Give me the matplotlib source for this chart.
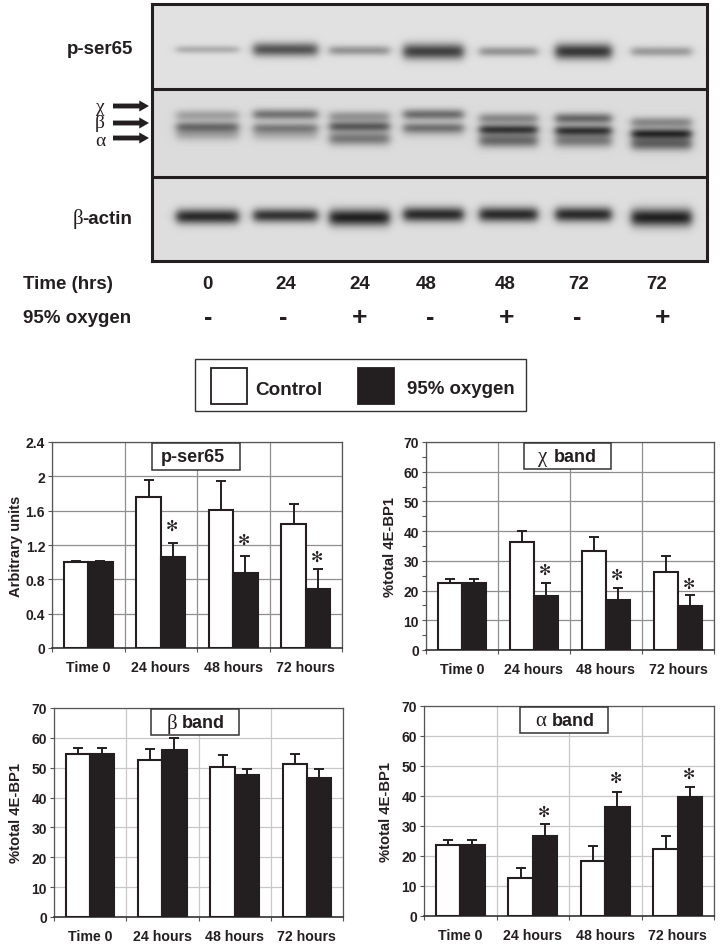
import numpy as np
import matplotlib
matplotlib.use('Agg')
import matplotlib.pyplot as plt
from matplotlib.patches import Rectangle
from matplotlib.ticker import MultipleLocator, FixedLocator, NullFormatter

W, H = 722, 953
plt.rcParams['font.family'] = ['Liberation Sans', 'DejaVu Sans']
plt.rcParams['font.weight'] = 'bold'
INK = '#231f20'

# bar charts
categories = ['Time 0', '24 hours', '48 hours', '72 hours']

pser_control = [1.0, 1.76, 1.61, 1.44]
pser_control_top = [1.01, 1.96, 1.94, 1.68]
pser_oxygen = [1.0, 1.06, 0.87, 0.69]
pser_oxygen_top = [1.01, 1.22, 1.07, 0.92]
pser_stars = [None, 1.43, 1.27, 1.07]

chi_control = [22.6, 36.5, 33.2, 26.4]
chi_control_top = [24.0, 40.2, 38.0, 31.5]
chi_oxygen = [22.6, 18.2, 16.8, 14.8]
chi_oxygen_top = [24.0, 22.5, 21.0, 18.5]
chi_stars = [None, 27.3, 25.5, 22.5]

beta_control = [54.6, 52.5, 50.4, 51.2]
beta_control_top = [56.6, 56.4, 54.4, 54.7]
beta_oxygen = [54.7, 55.8, 47.6, 46.7]
beta_oxygen_top = [56.6, 60.1, 49.7, 49.5]

alpha_control = [23.6, 12.8, 18.5, 22.4]
alpha_control_top = [25.4, 15.9, 23.5, 26.7]
alpha_oxygen = [23.7, 26.8, 36.4, 39.8]
alpha_oxygen_top = [25.4, 30.7, 41.4, 43.0]
alpha_stars = [None, 34.8, 46.1, 47.6]

# blot lanes
lane_x = [207, 285, 359, 433, 508, 583, 661]
lane_w = [62, 64, 60, 60, 58, 56, 60]
pser_y = [50, 50, 51, 52, 52, 52, 52]
pser_s = [0.25, 0.70, 0.38, 0.80, 0.38, 0.85, 0.35]
pser_h = [4.0, 7.0, 5.0, 8.0, 5.0, 8.0, 5.0]
chibit_y = [116, 115, 117, 115, 119, 119, 123]
chibit_s = [0.30, 0.52, 0.36, 0.55, 0.42, 0.58, 0.42]
betabit_y = [127, 128, 127, 128, 130, 131, 134]
betabit_s = [0.46, 0.36, 0.62, 0.36, 0.78, 0.78, 0.82]
alphabit_y = [134, 134, 139, 131, 141, 141, 144]
alphabit_s = [0.30, 0.25, 0.50, 0.20, 0.58, 0.50, 0.62]
actin_y = [217, 216, 218, 215, 215, 215, 218]
actin_s = [0.90, 0.85, 0.95, 0.90, 0.90, 0.90, 0.95]
actin_h = [7.5, 7.0, 8.5, 7.5, 7.5, 7.5, 9.0]

time_labels = ['0', '24', '24', '48', '48', '72', '72']
time_x = [207, 286, 360, 426, 505, 579, 657]
oxygen_signs = ['-', '-', '+', '-', '+', '-', '+']
sign_x = [208, 283, 360, 430, 507, 577, 663]


fig = plt.figure(figsize=(W / 100, H / 100), dpi=100, facecolor='white')


def px_axes(x0, y0, x1, y1, **kw):
    return fig.add_axes([x0 / W, 1 - y1 / H, (x1 - x0) / W, (y1 - y0) / H], **kw)


def blot_image():
    yy, xx = np.mgrid[5:262, 152:707].astype(float)
    dark = np.zeros_like(xx)

    def band(cx, w, cy, s, h):
        edge = 0.5 * (np.tanh((xx - cx + w / 2) / 5) - np.tanh((xx - cx - w / 2) / 5))
        return s * edge * np.exp(-((yy - cy) / h) ** 2)

    for i in range(7):
        dark += band(lane_x[i], lane_w[i], pser_y[i], pser_s[i], pser_h[i])
        dark += band(lane_x[i], lane_w[i], chibit_y[i], chibit_s[i], 5.5)
        dark += band(lane_x[i], lane_w[i], betabit_y[i], betabit_s[i], 5.0)
        dark += band(lane_x[i], lane_w[i], alphabit_y[i], alphabit_s[i], 7.0)
        dark += band(lane_x[i], lane_w[i], actin_y[i], actin_s[i], actin_h[i])
    bg = np.where(yy < 89, 0.88, np.where(yy < 178, 0.86, 0.87))
    return np.clip(bg - 0.78 * np.clip(dark, 0, 1), 0, 1)


blot = px_axes(152, 5, 707, 262)
blot.imshow(blot_image(), cmap='gray', vmin=0, vmax=1, aspect='auto',
            extent=(152, 707, 262, 5), interpolation='bilinear')
blot.set_xticks([])
blot.set_yticks([])
for s in blot.spines.values():
    s.set_linewidth(2.2)
    s.set_color(INK)
for y in [89.5, 178]:
    blot.axhline(y, color=INK, lw=2.2)


def panel(box, control, control_top, oxygen, oxygen_top, ymax, ystep, ylabel,
          stars, grid_col, label_x, minor=None):
    ax = px_axes(*box)
    x = np.arange(len(categories))
    w = 0.335
    ax.bar(x - w / 2, control, w, color='white', edgecolor=INK, lw=1.5, zorder=3)
    ax.bar(x + w / 2, oxygen, w, color=INK, edgecolor=INK, lw=1.5, zorder=3)
    ax.errorbar(x - w / 2, control, yerr=[np.zeros(4), np.array(control_top) - control],
                fmt='none', ecolor=INK, elinewidth=1.4, capsize=3.5, capthick=1.4, zorder=2)
    ax.errorbar(x + w / 2, oxygen, yerr=[np.zeros(4), np.array(oxygen_top) - oxygen],
                fmt='none', ecolor=INK, elinewidth=1.4, capsize=3.5, capthick=1.4, zorder=2)
    if stars is not None:
        for xi, s in zip(x, stars):
            if s is not None:
                ax.text(xi + w / 2 - 0.02, s, '✻', ha='center', va='center', fontsize=10.5,
                        family='DejaVu Sans', color=INK, zorder=4)
    ax.set_xlim(-0.5, 3.5)
    ax.set_ylim(0, ymax)
    ax.xaxis.set_major_locator(FixedLocator([-0.5, 0.5, 1.5, 2.5, 3.5]))
    ax.xaxis.set_major_formatter(NullFormatter())
    ax.xaxis.set_minor_locator(FixedLocator(x))
    ax.set_xticklabels(categories, minor=True, fontsize=10.2, fontweight='bold', color=INK)
    ax.tick_params(axis='x', which='minor', length=0, pad=9)
    ax.tick_params(axis='x', which='major', length=3, width=0.8, color='#555555')
    ax.yaxis.set_major_locator(MultipleLocator(ystep))
    if ystep < 1:
        ax.set_yticks(np.arange(0, ymax + 0.01, ystep))
        ax.set_yticklabels(['0', '0.4', '0.8', '1.2', '1.6', '2', '2.4'])
    if minor:
        ax.yaxis.set_minor_locator(MultipleLocator(minor))
    ax.tick_params(axis='y', which='both', length=3, width=0.8, color='#555555',
                   labelsize=10, labelcolor=INK, pad=2)
    ax.grid(True, which='major', color=grid_col, lw=0.9, zorder=0)
    ax.set_axisbelow(True)
    for s in ax.spines.values():
        s.set_color('#555555')
        s.set_linewidth(0.9)
    ax.spines['bottom'].set_color('#333333')
    ax.spines['bottom'].set_linewidth(1.2)
    ax.set_ylabel(ylabel, fontsize=10.6, fontweight='bold', color=INK, va='center')
    ax.yaxis.set_label_coords((label_x - box[0]) / (box[2] - box[0]), 0.5)
    return ax


panel((52, 443, 342, 649), pser_control, pser_control_top, pser_oxygen, pser_oxygen_top,
      2.4, 0.4, 'Arbitrary units', pser_stars, '#8f8f8f', 16)
panel((426, 443, 714, 651), chi_control, chi_control_top, chi_oxygen, chi_oxygen_top,
      70, 10, '%total 4E-BP1', chi_stars, '#8f8f8f', 390, minor=5)
panel((54, 709, 343, 918), beta_control, beta_control_top, beta_oxygen, beta_oxygen_top,
      70, 10, '%total 4E-BP1', None, '#c8c8c8', 16)
panel((424, 707, 714, 917), alpha_control, alpha_control_top, alpha_oxygen, alpha_oxygen_top,
      70, 10, '%total 4E-BP1', alpha_stars, '#c8c8c8', 386)

# everything else goes on a pixel overlay
ov = px_axes(0, 0, W, H)
ov.set_xlim(0, W)
ov.set_ylim(H, 0)
ov.axis('off')
ov.patch.set_alpha(0)


def sans(x, y, s, size=13.5, ha='left'):
    ov.text(x, y, s, fontsize=size, fontweight='bold', ha=ha, va='center', color=INK)


def serif(x, y, s, size=14, ha='left'):
    ov.text(x, y, s, fontsize=size, family='Liberation Serif', fontweight='normal',
            ha=ha, va='center', color=INK)


def title_box(x0, y0, x1, y1):
    ov.add_patch(Rectangle((x0, y0), x1 - x0, y1 - y0, fc='white', ec='#333333', lw=1.1, zorder=5))


sans(133, 50, 'p-ser65', 13.5, ha='right')
serif(73, 219, 'β', 15)
sans(82, 219, '-actin', 13.5)

for ch, y in zip(['χ', 'β', 'α'], [107, 124, 142]):
    serif(100, y, ch, 14, ha='center')
for y in [107, 124, 139]:
    ov.annotate('', xy=(149, y), xytext=(113, y),
                arrowprops=dict(arrowstyle='simple,head_length=0.7,head_width=0.8,tail_width=0.35',
                                color=INK, lw=0, shrinkA=0, shrinkB=0))

sans(23, 285, 'Time (hrs)')
sans(23, 319, '95% oxygen')
for xi, t in zip(time_x, time_labels):
    sans(xi, 285, t, ha='center')
for xi, t in zip(sign_x, oxygen_signs):
    sans(xi, 318, t, 19 if t == '+' else 18, ha='center')

# legend
ov.add_patch(Rectangle((195, 360), 331, 52, fc='white', ec='#333333', lw=1.0))
ov.add_patch(Rectangle((211, 369), 36, 36, fc='white', ec=INK, lw=1.3))
ov.add_patch(Rectangle((358, 369), 36, 36, fc=INK, ec=INK, lw=1.3))
sans(255, 391, 'Control', 13.6)
sans(407, 390, '95% oxygen', 13.4)

# panel titles
title_box(152, 444, 240, 471)
ov.text(193, 458, 'p-ser65', fontsize=13, fontweight='bold', ha='center', va='center', color=INK, zorder=6)
title_box(524, 444, 611, 470)
ov.text(538, 458, 'χ', fontsize=15, family='Liberation Serif', fontweight='normal', va='center', color=INK, zorder=6)
ov.text(554, 458, 'band', fontsize=13, fontweight='bold', va='center', color=INK, zorder=6)
title_box(151, 710, 239, 736)
ov.text(167, 724, 'β', fontsize=15, family='Liberation Serif', fontweight='normal', va='center', color=INK, zorder=6)
ov.text(182, 724, 'band', fontsize=13, fontweight='bold', va='center', color=INK, zorder=6)
title_box(520, 708, 608, 734)
ov.text(535, 722, 'α', fontsize=15, family='Liberation Serif', fontweight='normal', va='center', color=INK, zorder=6)
ov.text(552, 722, 'band', fontsize=13, fontweight='bold', va='center', color=INK, zorder=6)

fig.savefig('out.png', dpi=100)
